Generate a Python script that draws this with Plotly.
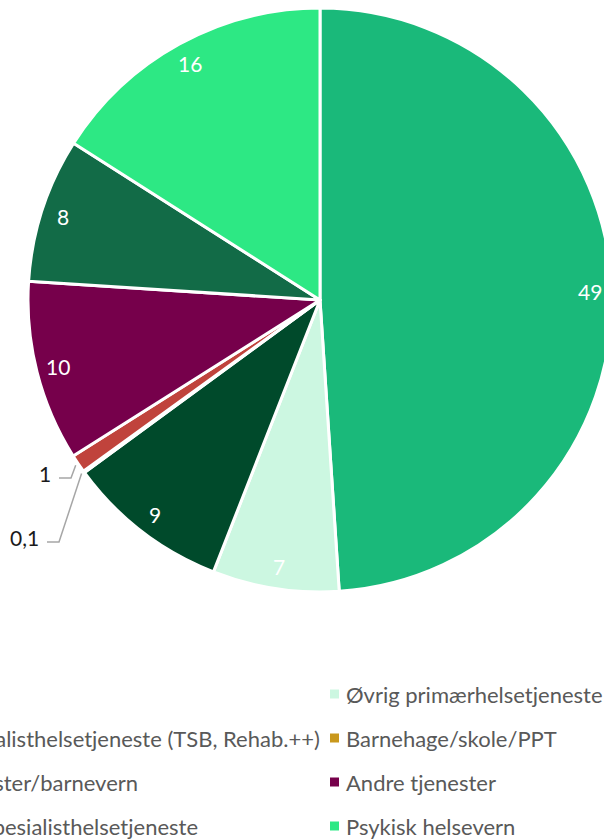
import math
import plotly.graph_objects as go

W, H = 620, 839  # a bit wider than the 604 px window: the pie runs off the right edge

# slices, clockwise from 12 o'clock (legend is row-major, two columns)
labels = [
    "Fastlege",
    "Øvrig primærhelsetjeneste",
    "Annen spesialisthelsetjeneste (TSB, Rehab.++)",
    "Barnehage/skole/PPT",
    "Sosiale tjenester/barnevern",
    "Andre tjenester",
    "Somatisk spesialisthelsetjeneste",
    "Psykisk helsevern",
]
values = [49, 7, 9, 0.1, 1, 10, 8, 16]
colors = ["#1ab97a", "#ccf7e1", "#004a2b", "#c9981c",
          "#c0433c", "#76004b", "#126b47", "#2de884"]

FONT = "Lato"
CX, CY, R = 320, 300, 292


def px(x):
    return x / W


def py(y):
    return 1 - y / H


def fmt(v):
    return f"{v:g}".replace(".", ",")


fig = go.Figure(
    go.Pie(
        labels=labels,
        values=values,
        sort=False,
        direction="clockwise",
        rotation=0,
        marker=dict(colors=colors, line=dict(color="white", width=3)),
        textinfo="none",
        domain=dict(x=[px(CX - R), px(CX + R)], y=[py(CY + R), py(CY - R)]),
        showlegend=False,
        hoverinfo="label+value",
    )
)

annotations = []
shapes = []

# data labels, placed like Excel's "best fit": near the outer rim
total = sum(values)
outside = {3: (41, 537), 4: (53, 473)}  # right edge / middle of the small labels
cum = 0
for i, v in enumerate(values):
    theta = math.radians((cum + v / 2) / total * 360)
    cum += v
    if i in outside:
        tx, ty = outside[i]
        ex = CX + R * 1.01 * math.sin(theta)
        ey = CY - R * 1.01 * math.cos(theta)
        shapes.append(dict(
            type="path", xref="paper", yref="paper",
            path=(f"M {px(tx + 6)},{py(ty + 5)} L {px(tx + 18)},{py(ty + 5)} "
                  f"L {px(ex)},{py(ey)}"),
            line=dict(color="#a6a6a6", width=1.5)))
        annotations.append(dict(
            x=px(tx), y=py(ty), xref="paper", yref="paper",
            xanchor="right", yanchor="middle", text=fmt(v), showarrow=False,
            font=dict(size=21, color="#1a1a1a", family=FONT)))
    else:
        lx = CX + R * 0.925 * math.sin(theta)
        ly = CY - R * 0.925 * math.cos(theta)
        annotations.append(dict(
            x=px(lx), y=py(ly), xref="paper", yref="paper",
            xanchor="center", yanchor="middle", text=fmt(v), showarrow=False,
            font=dict(size=21, color="white", family=FONT)))

# legend drawn by hand: the left column runs off the left edge of the picture
left_ends = [-40, 322, 140, 200]
row_y = [694, 738, 782, 826]
for i, (lab, col) in enumerate(zip(labels, colors)):
    row, c = divmod(i, 2)
    y = row_y[row]
    if c == 0:
        annotations.append(dict(
            x=px(left_ends[row]), y=py(y), xref="paper", yref="paper",
            xanchor="right", yanchor="middle", text=lab, showarrow=False,
            font=dict(size=22, color="#595959", family=FONT)))
    else:
        shapes.append(dict(
            type="rect", xref="paper", yref="paper",
            x0=px(330), x1=px(339), y0=py(y - 4.5), y1=py(y + 4.5),
            fillcolor=col, line=dict(width=0)))
        annotations.append(dict(
            x=px(344), y=py(y), xref="paper", yref="paper",
            xanchor="left", yanchor="middle", text=lab, showarrow=False,
            font=dict(size=22, color="#595959", family=FONT)))

fig.update_layout(
    width=W,
    height=H,
    margin=dict(l=0, r=0, t=0, b=0, autoexpand=False),
    paper_bgcolor="white",
    plot_bgcolor="white",
    font=dict(family=FONT),
    annotations=annotations,
    shapes=shapes,
)

fig.write_html(
    "out.html",
    config={"displayModeBar": False},
    post_script="document.body.style.margin='0';document.body.style.overflow='hidden';",
)
